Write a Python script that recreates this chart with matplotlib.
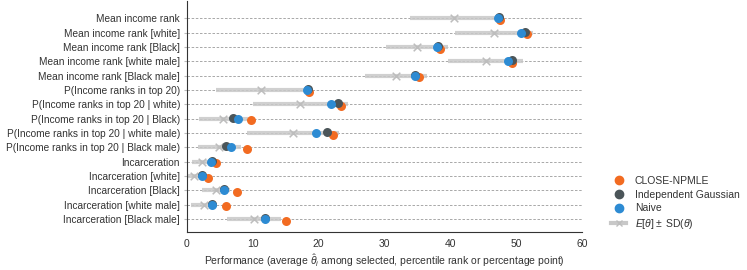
import matplotlib
matplotlib.use("Agg")
import matplotlib.pyplot as plt
from matplotlib.lines import Line2D

plt.rcParams["font.family"] = ["Liberation Sans", "DejaVu Sans"]
plt.rcParams["mathtext.fontset"] = "custom"
plt.rcParams["mathtext.rm"] = "Liberation Sans"
plt.rcParams["mathtext.it"] = "Liberation Sans:italic"

labels = [
    "Mean income rank",
    "Mean income rank [white]",
    "Mean income rank [Black]",
    "Mean income rank [white male]",
    "Mean income rank [Black male]",
    "P(Income ranks in top 20)",
    "P(Income ranks in top 20 | white)",
    "P(Income ranks in top 20 | Black)",
    "P(Income ranks in top 20 | white male)",
    "P(Income ranks in top 20 | Black male)",
    "Incarceration",
    "Incarceration [white]",
    "Incarceration [Black]",
    "Incarceration [white male]",
    "Incarceration [Black male]",
]

# E[theta] and SD(theta)
prior_mean = [40.6, 46.6, 34.9, 45.4, 31.7, 11.3, 17.2, 5.5, 16.1, 4.9, 2.3, 1.0, 4.4, 2.6, 10.2]
prior_sd = [6.7, 5.9, 4.7, 5.7, 4.7, 6.9, 7.2, 3.7, 7.0, 3.3, 1.5, 1.0, 2.1, 2.0, 4.1]

close_npmle = [47.5, 51.6, 38.5, 49.4, 35.3, 18.5, 23.4, 9.7, 22.2, 9.1, 4.4, 3.2, 7.6, 5.9, 15.1]
indep_gauss = [47.4, 51.4, 38.1, 49.3, 34.6, 18.4, 23.0, 7.0, 21.2, 5.9, 3.8, 2.3, 5.6, 3.8, 11.9]
naive = [47.3, 50.8, 38.0, 48.7, 34.6, 18.3, 21.9, 7.8, 19.6, 6.7, 3.6, 2.3, 5.6, 3.8, 11.9]

C_ORANGE = "#F26B21"
C_GRAY = "#4B5559"
C_BLUE = "#2D8BD3"
C_BAND = "#c8c8c8"
C_TEXT = "#333333"

fig = plt.figure(figsize=(7.47, 2.7), dpi=100)
ax = fig.add_axes([0.2503, 0.1407, 0.5288, 0.855])

rows = list(range(len(labels)))

for y in rows:
    ax.axhline(y, color="#9a9a9a", lw=0.6, ls=(0, (3, 2)), zorder=0)

for y, m, s in zip(rows, prior_mean, prior_sd):
    ax.plot([m - s, m + s], [y, y], color=C_BAND, lw=3, alpha=0.85,
            solid_capstyle="butt", zorder=1)
ax.scatter(prior_mean, rows, marker="x", color="#bdbdbd", s=30, lw=1.1, zorder=2)

ax.scatter(close_npmle, [y + 0.12 for y in rows], color=C_ORANGE, s=42, zorder=3, lw=0)
ax.scatter(indep_gauss, [y - 0.07 for y in rows], color=C_GRAY, s=42, zorder=4, lw=0)
ax.scatter(naive, rows, color=C_BLUE, s=42, zorder=5, lw=0)

ax.set_yticks(rows)
ax.set_yticklabels(labels, fontsize=7.3, color=C_TEXT)
ax.set_ylim(14.9, -1.2)
ax.set_xlim(0, 60)
ax.set_xticks(range(0, 61, 10))
ax.tick_params(axis="x", length=0, labelsize=7.5, pad=5, labelcolor=C_TEXT)
ax.tick_params(axis="y", length=2, color="#bbbbbb", pad=3)
ax.spines["top"].set_visible(False)
ax.spines["right"].set_visible(False)
ax.spines["left"].set_color("#333333")
ax.spines["bottom"].set_color("#333333")
ax.set_xlabel(r"Performance (average $\hat{\theta}_i$ among selected, percentile rank or percentage point)",
              fontsize=7.5, labelpad=2, color=C_TEXT)

handles = [
    Line2D([], [], ls="", marker="o", color=C_ORANGE, markersize=6),
    Line2D([], [], ls="", marker="o", color=C_GRAY, markersize=6),
    Line2D([], [], ls="", marker="o", color=C_BLUE, markersize=6),
    Line2D([], [], color=C_BAND, lw=3, marker="x", markeredgecolor="#bdbdbd", markersize=5),
]
names = ["CLOSE-NPMLE", "Independent Gaussian", "Naive", r"$E[\theta] \pm$ SD($\theta$)"]
fig.legend(handles, names, loc="lower left", bbox_to_anchor=(0.805, 0.11),
           frameon=False, fontsize=7.5, handlelength=1.5, labelspacing=0.35,
           labelcolor=C_TEXT)

fig.savefig("out.png", dpi=100)
